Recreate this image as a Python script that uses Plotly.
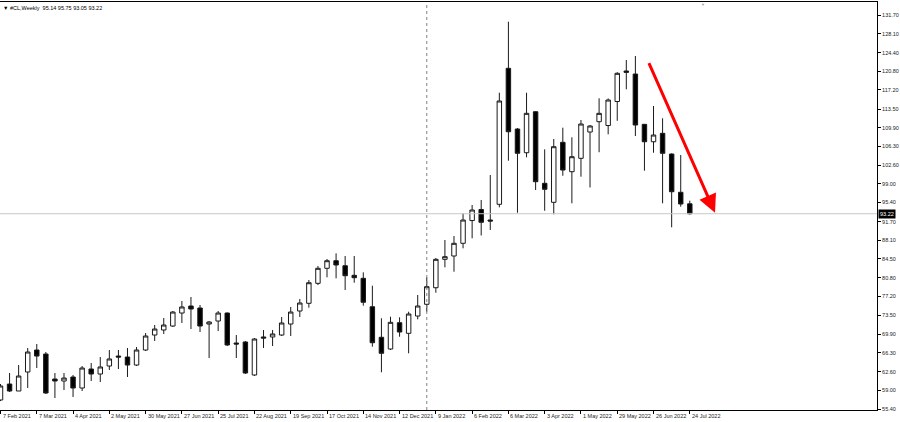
import plotly.graph_objects as go

symbol = "#CL,Weekly"
week_idx = list(range(77))

opens = [57.15, 60.24, 58.89, 62.57, 66.83, 66.05, 61.21, 60.82, 61.60, 59.47,
         63.15, 62.18, 63.73, 65.66, 65.47, 63.92, 66.83, 69.73, 70.70, 71.47,
         73.99, 75.35, 74.96, 71.86, 72.44, 73.99, 68.18, 68.38, 61.99, 69.35,
         69.35, 69.73, 71.86, 74.38, 75.87, 79.74, 82.65, 84.12, 83.15, 81.29,
         80.71, 75.21, 69.29, 67.02, 72.12, 70.06, 73.41, 75.68, 78.89, 84.39,
         85.03, 87.49, 91.90, 94.04, 92.00, 95.04, 121.38, 109.62, 105.03, 112.97,
         99.11, 95.43, 107.05, 101.36, 103.95, 109.04, 111.04, 110.30, 114.95, 120.86,
         120.27, 110.53, 107.16, 108.79, 104.78, 97.37, 95.14]
highs = [60.24, 62.37, 63.92, 67.21, 67.99, 66.44, 62.37, 62.37, 61.99, 63.73,
         64.31, 65.47, 66.83, 66.83, 67.21, 67.41, 70.12, 71.67, 73.02, 74.38,
         76.32, 77.09, 75.54, 72.44, 74.38, 74.10, 69.73, 68.57, 69.15, 70.70,
         70.70, 73.22, 75.16, 76.71, 80.38, 83.09, 84.45, 85.55, 85.03, 85.03,
         81.87, 79.28, 72.97, 73.28, 73.16, 74.24, 77.48, 80.91, 84.64, 88.13,
         88.90, 93.30, 94.91, 95.88, 100.72, 116.65, 130.40, 109.80, 116.65, 113.10,
         105.69, 107.69, 109.88, 108.02, 111.37, 110.40, 115.57, 115.53, 120.62, 122.99,
         123.76, 110.60, 114.08, 111.70, 104.90, 104.59, 95.75]
lows = [56.95, 58.69, 58.89, 59.47, 63.34, 58.31, 57.53, 59.08, 57.73, 58.89,
        60.82, 60.63, 62.96, 63.15, 61.60, 63.73, 66.63, 68.57, 69.93, 71.28,
        72.06, 70.89, 70.31, 65.28, 70.50, 67.60, 65.28, 62.18, 61.79, 67.21,
        67.60, 69.54, 69.54, 73.22, 75.02, 79.41, 80.91, 80.71, 78.45, 79.86,
        75.41, 67.47, 62.51, 66.83, 69.40, 66.19, 72.77, 74.24, 77.92, 82.84,
        81.99, 86.52, 88.46, 89.00, 90.07, 94.46, 103.49, 93.41, 104.14, 97.81,
        93.80, 93.11, 100.58, 95.24, 100.39, 98.30, 105.13, 108.60, 111.21, 117.31,
        108.27, 101.55, 105.03, 95.24, 90.59, 94.58, 93.05]
closes = [59.86, 58.89, 61.79, 66.44, 65.66, 58.50, 60.82, 61.40, 59.47, 63.34,
          62.18, 63.54, 65.09, 65.47, 63.92, 66.83, 69.54, 70.89, 71.67, 74.18,
          75.16, 74.77, 71.47, 72.25, 73.99, 67.80, 67.99, 62.37, 68.96, 69.15,
          69.93, 72.06, 74.18, 75.93, 79.86, 82.65, 84.12, 83.29, 81.22, 80.83,
          76.07, 68.24, 66.19, 72.19, 70.31, 73.80, 75.35, 79.09, 84.39, 84.90,
          87.49, 92.00, 93.94, 91.56, 91.81, 115.05, 109.10, 104.92, 112.66, 99.42,
          97.95, 106.20, 101.68, 104.26, 110.59, 110.21, 112.66, 115.24, 120.41, 120.60,
          110.40, 107.16, 108.46, 104.92, 97.48, 95.10, 93.22]

x_tick_idx = list(range(0, 77, 4))
x_tick_labels = ["7 Feb 2021", "7 Mar 2021", "4 Apr 2021", "2 May 2021", "30 May 2021",
                 "27 Jun 2021", "25 Jul 2021", "22 Aug 2021", "19 Sep 2021", "17 Oct 2021",
                 "14 Nov 2021", "12 Dec 2021", "9 Jan 2022", "6 Feb 2022", "6 Mar 2022",
                 "3 Apr 2022", "1 May 2022", "29 May 2022", "26 Jun 2022", "24 Jul 2022"]
y_tick_vals = [131.70, 128.10, 124.40, 120.80, 117.20, 113.50, 109.90, 106.30, 102.60,
               99.00, 95.40, 91.70, 88.10, 84.50, 80.80, 77.20, 73.50, 69.90, 66.30,
               62.60, 59.00, 55.40]

separator_idx = 47
shift_marker_idx = 77.45
arrow_tail = (71.42, 122.66)
arrow_tip = (78.78, 93.42)
last_price = closes[-1]

FONT = "Liberation Sans, Arial, sans-serif"
FS = 5.5

fig = go.Figure()
fig.add_trace(go.Candlestick(
    x=week_idx, open=opens, high=highs, low=lows, close=closes,
    increasing=dict(line=dict(color="#1a1a1a", width=1), fillcolor="#ffffff"),
    decreasing=dict(line=dict(color="#1a1a1a", width=1), fillcolor="#000000"),
    hoverinfo="skip", showlegend=False,
))

# current price line
fig.add_hline(y=last_price, line=dict(color="#c8c8c8", width=1))
# period separator
fig.add_vline(x=separator_idx, line=dict(color="#808080", width=1, dash="dot"))

annotations = []
for xi, lab in zip(x_tick_idx, x_tick_labels):
    annotations.append(dict(x=xi, y=0, xref="x", yref="paper", text=lab,
                            showarrow=False, xanchor="left", yanchor="top",
                            xshift=0, yshift=-1, font=dict(family=FONT, size=FS, color="#222")))
# price label box
annotations.append(dict(x=1, y=last_price, xref="paper", yref="y",
                        text=f"{last_price:.2f}", showarrow=False, xanchor="left",
                        yanchor="middle", xshift=1, bgcolor="#000000", borderpad=1,
                        font=dict(family=FONT, size=FS, color="#ffffff")))
# title
annotations.append(dict(x=0, y=1, xref="paper", yref="paper",
                        text=f"▼ {symbol}  {opens[-1]:.2f} {highs[-1]:.2f} {lows[-1]:.2f} {closes[-1]:.2f}",
                        showarrow=False, xanchor="left", yanchor="top", xshift=1, yshift=-1,
                        font=dict(family=FONT, size=FS, color="#000")))
# chart shift marker
annotations.append(dict(x=shift_marker_idx, y=1, xref="x", yref="paper", text="▼",
                        showarrow=False, xanchor="center", yanchor="top", yshift=1,
                        borderpad=0, font=dict(family=FONT, size=4, color="#a0a0a0")))
# red arrow
annotations.append(dict(x=arrow_tip[0], y=arrow_tip[1], ax=arrow_tail[0], ay=arrow_tail[1],
                        xref="x", yref="y", axref="x", ayref="y", text="",
                        showarrow=True, arrowhead=2, arrowsize=1.2, arrowwidth=3,
                        arrowcolor="#ff0000"))

fig.update_layout(
    width=900, height=422,
    margin=dict(l=0, r=23, t=2, b=12),
    paper_bgcolor="#ffffff", plot_bgcolor="#ffffff",
    showlegend=False,
    annotations=annotations,
    xaxis=dict(range=[-0.055, 96.64], rangeslider=dict(visible=False),
               tickvals=x_tick_idx, showticklabels=False, ticks="outside", ticklen=3,
               tickcolor="#000", showgrid=False, zeroline=False,
               showline=True, linecolor="#000", linewidth=1, mirror=True),
    yaxis=dict(range=[55.21, 134.22], side="right", tickvals=y_tick_vals,
               ticktext=[f"{v:.2f}" for v in y_tick_vals], ticks="outside", ticklen=3,
               tickcolor="#000", tickfont=dict(family=FONT, size=FS, color="#222"),
               showgrid=False, zeroline=False,
               showline=True, linecolor="#000", linewidth=1, mirror=True),
)

fig.write_html("out.html", config={"displayModeBar": False},
               post_script="document.body.style.margin='0';document.body.style.overflow='hidden';")
